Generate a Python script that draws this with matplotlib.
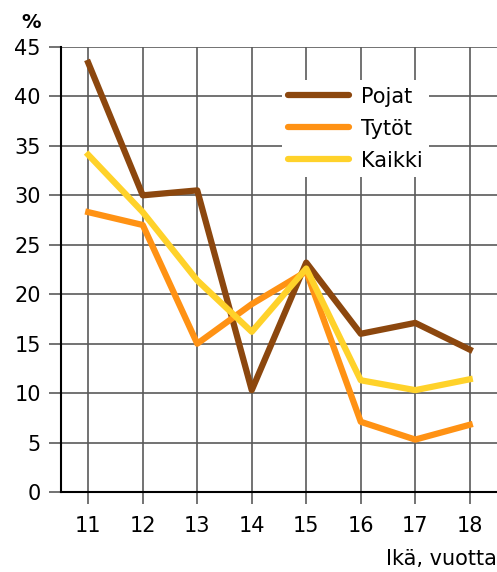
import matplotlib
matplotlib.use("Agg")
import matplotlib.pyplot as plt

# Data
ages = [11, 12, 13, 14, 15, 16, 17, 18]
pojat = [43.4, 30.0, 30.5, 10.3, 23.2, 16.0, 17.1, 14.4]
tytot = [28.3, 27.0, 15.0, 19.0, 22.3, 7.1, 5.3, 6.8]
kaikki = [34.1, 28.3, 21.4, 16.2, 22.6, 11.3, 10.3, 11.4]
y_ticks = [0, 5, 10, 15, 20, 25, 30, 35, 40, 45]

plt.rcParams['font.family'] = ['DejaVu Sans']

fig = plt.figure(figsize=(4.97, 5.72), dpi=100)
ax = fig.add_axes([61 / 497, 1 - 492 / 572, 1 - 61 / 497, (492 - 47) / 572])

grid_col = '#5a5a5a'
ax.set_xlim(10.5, 18.5)
ax.set_ylim(0, 45)
ax.set_xticks(ages)
ax.set_yticks(y_ticks)
ax.grid(True, color=grid_col, linewidth=1.2, zorder=0)
ax.set_axisbelow(True)

ax.plot(ages, pojat, color='#8c470e', linewidth=4.5, label='Pojat', zorder=3)
ax.plot(ages, tytot, color='#ff9214', linewidth=4.5, label='Tytöt', zorder=3)
ax.plot(ages, kaikki, color='#ffd22a', linewidth=4.5, label='Kaikki', zorder=3)

for s in ['top', 'right']:
    ax.spines[s].set_visible(False)
for s in ['left', 'bottom']:
    ax.spines[s].set_color('black')
    ax.spines[s].set_linewidth(1.5)

ax.tick_params(axis='both', length=8.5, width=1.2, color=grid_col,
               labelsize=15, colors='black')
ax.tick_params(axis='y', pad=6)
ax.tick_params(axis='x', pad=9)
for t in ax.get_xticklines() + ax.get_yticklines():
    t.set_color(grid_col)

leg = ax.legend(loc='upper left', bbox_to_anchor=(0.507, 0.925), fontsize=15,
                frameon=True, facecolor='white', edgecolor='none', framealpha=1,
                fancybox=False, handlelength=2.9, handletextpad=0.6,
                labelspacing=0.58, borderpad=0.3, borderaxespad=0)
for line in leg.get_lines():
    line.set_solid_capstyle('round')

fig.text(21 / 497, 1 - 22 / 572, '%', fontsize=14, fontweight='bold', va='center', ha='left')
fig.text(1.0, 1 - 559 / 572, 'Ikä, vuotta', fontsize=15, va='center', ha='right')

fig.savefig('out.png', dpi=100)
